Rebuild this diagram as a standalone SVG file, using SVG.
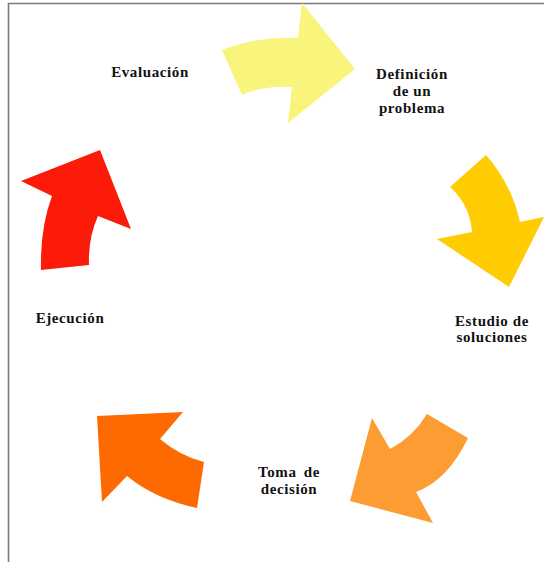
<svg xmlns="http://www.w3.org/2000/svg" width="544" height="562" viewBox="0 0 544 562">
<style>
.lbl{font-family:"Liberation Serif","Times New Roman",serif;font-weight:bold;font-size:15px;letter-spacing:0.6px;fill:#111;text-anchor:middle}
.frame{fill:none;stroke:#7a7a7a;stroke-width:1.6}
</style>
<rect width="544" height="562" fill="#fff"/>
<path class="frame" d="M8.5,570 V3.5 H560"/>
<g id="connectors">
<path id="arrow-yellow" fill="#F9F47C" d="M222,50 Q258,36 298,38 L302,3 L355,69 L288,123 L292,87 Q265,85 242,95 Z"/>
<path id="arrow-gold" fill="#FECC00" d="M450,187 L486,155 Q512,185 520,222 L544,217 L509,287 L437,239 L472,232 Q470,205 450,187 Z"/>
<path id="arrow-orange" fill="#FD9C33" d="M468,438 Q448,480 416,492 L433,523 L350,501 L372,418 L390,449 Q413,437 427,414 Z"/>
<path id="arrow-darkorange" fill="#FE6A00" d="M97,416 L183,412 L160,439 Q180,456 204,462 L197,508 Q155,499 127,476 L102,502 Z"/>
<path id="arrow-red" fill="#FB1B08" d="M21,181 L100,150 L131,229 L98,216 Q88,238 89,265 L41,270 Q40,228 52,196 Z"/>
</g>
<g id="n-evaluacion"><text class="lbl" x="150" y="77">Evaluación</text></g>
<g id="n-definicion"><text class="lbl" x="412" y="79">Definición</text><text class="lbl" x="412" y="96">de un</text><text class="lbl" x="412" y="113">problema</text></g>
<g id="n-estudio"><text class="lbl" x="492" y="326">Estudio de</text><text class="lbl" x="492" y="342">soluciones</text></g>
<g id="n-toma"><text class="lbl" x="289" y="477" word-spacing="3">Toma de</text><text class="lbl" x="289" y="494">decisión</text></g>
<g id="n-ejecucion"><text class="lbl" x="70" y="323">Ejecución</text></g>
</svg>
